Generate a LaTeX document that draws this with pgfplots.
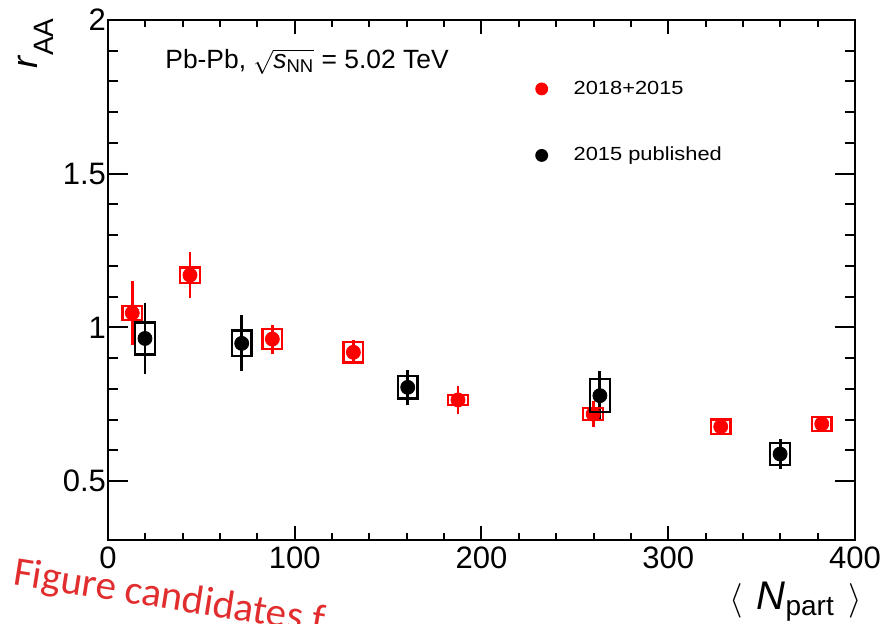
\documentclass[border=0pt]{standalone}
\usepackage{pgfplots}
\pgfplotsset{compat=1.18}
\usepackage{pgfplotstable}
\usepackage{fontspec}
\setmainfont{Liberation Sans}
\newfontfamily\cfont{Carlito}
\usepackage{graphicx}
\definecolor{wmred}{RGB}{225,45,45}

\pgfplotstableread{
x y stat sys
13.0 1.047 0.104 0.023
43.9 1.170 0.075 0.025
88.0 0.962 0.047 0.033
131.4 0.919 0.039 0.033
187.4 0.764 0.047 0.016
259.8 0.718 0.042 0.020
328.1 0.677 0.020 0.023
382.2 0.686 0.026 0.023
}\redtab
\pgfplotstableread{
x y stat sys
19.8 0.964 0.114 0.052
71.6 0.948 0.091 0.042
160.5 0.805 0.058 0.036
263.4 0.778 0.081 0.054
359.9 0.588 0.050 0.036
}\blacktab

\begin{document}
\begin{tikzpicture}[x=1pt,y=1pt]
\path[use as bounding box] (-54,-41.75) rectangle (388.5,269.75);
\begin{axis}[
  at={(0,0)}, anchor=south west,
  scale only axis, width=373.5pt, height=259.75pt,
  xmin=0, xmax=400, ymin=0.31, ymax=2,
  axis line style={line width=1pt},
  every tick/.style={black, line width=1pt},
  tick align=inside,
  xtick={0,100,...,400}, minor x tick num=4,
  ytick={0.5,1,1.5,2}, minor y tick num=4,
  major tick length=10pt, minor tick length=5pt,
  xtick style={/pgfplots/major tick length=7pt,/pgfplots/minor tick length=3.5pt},
  tick label style={font=\fontsize{15.5}{18}\selectfont},
  /pgf/number format/assume math mode=true,
  yticklabel style={xshift=2.5pt},
  xlabel={{\fontsize{17}{20}\selectfont$\langle$}\,\,\textit{N}\textsubscript{part}\,\,{\fontsize{17}{20}\selectfont$\rangle$}},
  xlabel style={at={(axis description cs:1,0)}, anchor=base east, inner sep=0pt,
    font=\fontsize{20}{24}\selectfont, xshift=3.5pt, yshift=-35pt},
  ylabel={\textit{r}\raisebox{-8pt}{\fontsize{14}{16}\selectfont AA}},
  ylabel style={at={(axis description cs:-0.1205,1.0038)}, anchor=north east, inner sep=0pt,
    font=\fontsize{18}{20}\selectfont},
  legend style={at={(rel axis cs:0.572,0.8915)}, anchor=north west, draw=none, fill=none,
    font=\fontsize{9.5}{11}\selectfont, row sep=21pt, column sep=11pt, inner sep=0pt},
  legend cell align=left,
  clip=false,
]
\addlegendimage{only marks, mark=*, red, mark size=3pt}
\addlegendentry{\scalebox{1.15}[1]{2018+2015}}
\addlegendimage{only marks, mark=*, black, mark size=3pt}
\addlegendentry{\scalebox{1.15}[1]{2015 published}}

\addplot[forget plot, red, only marks, mark=*, mark size=3.5pt,
  scatter,
  visualization depends on={\thisrow{sys} \as \sysv},
  scatter/@pre marker code/.code={\draw[red, line width=1.2pt] (axis direction cs:-5.3,-\sysv) rectangle (axis direction cs:5.3,\sysv);},
  scatter/@post marker code/.code={},
  error bars/.cd, y dir=both, y explicit, error mark=none,
  error bar style={line width=1.4pt, red}]
  table[x=x, y=y, y error=stat]{\redtab};

\addplot[forget plot, black, only marks, mark=*, mark size=3.5pt,
  scatter,
  visualization depends on={\thisrow{sys} \as \sysv},
  scatter/@pre marker code/.code={\draw[black, line width=1.2pt] (axis direction cs:-5.3,-\sysv) rectangle (axis direction cs:5.3,\sysv);},
  scatter/@post marker code/.code={},
  error bars/.cd, y dir=both, y explicit, error mark=none,
  error bar style={line width=1.4pt, black}]
  table[x=x, y=y, y error=stat]{\blacktab};

\node[anchor=base west, inner sep=0pt, font=\fontsize{13.2}{16}\selectfont]
  at (rel axis cs:0,1) [xshift=28.5pt, yshift=-24pt]
  {Pb-Pb, $\sqrt{\hbox{\textit{s}\textsubscript{NN}}}$ = 5.02 TeV};
\end{axis}
\node[rotate=-9, anchor=base west, inner sep=0pt, text=wmred, font=\cfont\fontsize{20.5}{24}\selectfont]
  at (-48,-22.5) {Figure candidates f};
\end{tikzpicture}
\end{document}
